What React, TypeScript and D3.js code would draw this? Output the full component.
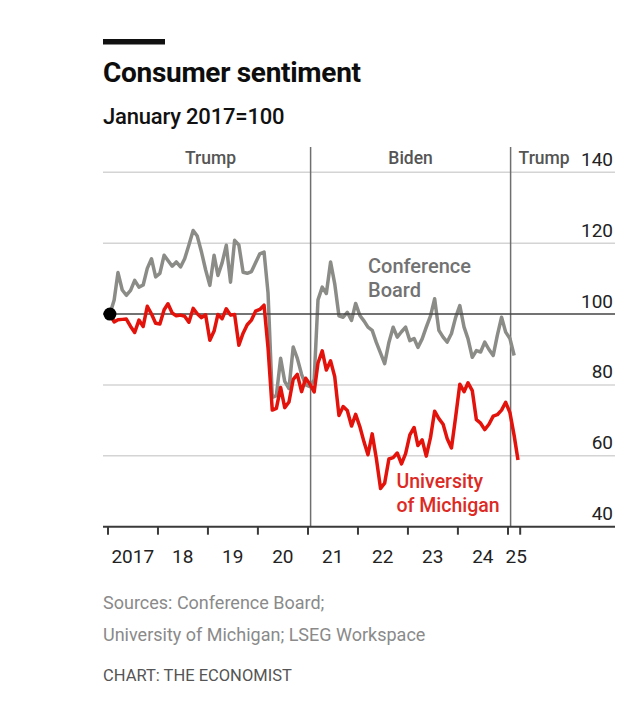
import React from "react";
import * as d3 from "d3";

// ---- Data (index, January 2017 = 100), monthly, mid-month ----
const startYear = 2017;
const conferenceBoard = [
  // 2017
  100, 104, 111.7, 106.8, 105.3, 106.7, 109.5, 107.6, 108.2, 112.9, 115.6, 110.5,
  // 2018
  111.5, 116.6, 115.1, 113.5, 114.7, 113.3, 115.6, 119.5, 123.6, 122.0, 117.5, 112.5,
  // 2019
  108.1, 116.6, 110.9, 114.5, 119.4, 109.0, 120.8, 119.5, 111.8, 111.5, 112.0, 114.5,
  // 2020
  117.0, 117.5, 106.0, 76.5, 77.0, 87.5, 81.0, 79.0, 90.7, 87.5, 83.0, 80.0,
  // 2021
  79.5, 81.5, 104.0, 107.6, 105.8, 114.7, 108.6, 99.5, 99.1, 100.5, 98.2, 103.0,
  // 2022
  99.6, 98.0, 96.3, 95.4, 92.0, 89.0, 86.0, 92.0, 96.3, 93.5, 95.0, 96.3,
  // 2023
  92.5, 93.1, 90.6, 93.0, 96.3, 99.5, 104.3, 95.4, 93.5, 92.1, 94.5, 99.0,
  // 2024
  102.4, 96.3, 93.0, 87.8, 89.7, 89.3, 92.1, 90.0, 88.3, 94.0, 99.1, 94.9,
  // 2025
  93.1, 88.3,
];
const michigan = [
  // 2017
  100.0, 97.8, 98.4, 98.5, 98.6, 96.5, 94.8, 98.3, 96.5, 102.2, 100.0, 97.4,
  // 2018
  97.2, 101.2, 102.9, 100.3, 99.5, 99.7, 99.4, 97.7, 101.6, 100.1, 99.0, 99.8,
  // 2019
  92.6, 95.2, 99.9, 98.7, 101.5, 99.7, 99.9, 91.2, 94.6, 97.0, 98.3, 100.8,
  // 2020
  101.3, 102.5, 90.5, 72.9, 73.4, 79.3, 73.6, 75.2, 81.6, 83.0, 78.1, 81.9,
  // 2021
  80.2, 78.0, 86.2, 89.6, 84.2, 86.8, 82.4, 71.4, 73.9, 72.8, 68.4, 71.7,
  // 2022
  68.2, 63.8, 60.3, 66.2, 59.3, 50.8, 52.3, 59.1, 59.5, 60.8, 57.7, 60.6,
  // 2023
  65.9, 68.0, 62.9, 64.5, 59.9, 65.2, 72.6, 70.5, 68.9, 64.8, 62.2, 70.8,
  // 2024
  80.2, 78.1, 80.6, 78.4, 70.2, 69.2, 67.4, 68.9, 71.2, 71.6, 72.9, 75.1,
  // 2025
  72.2, 65.7, 58.8,
];

const yTicks = [40, 60, 80, 100, 120, 140];
const tickYears = [2017, 2018, 2019, 2020, 2021, 2022, 2023, 2024, 2025];
const xLabels = ["2017", "18", "19", "20", "21", "22", "23", "24", "25"];
const terms = [
  { name: "Trump", start: new Date(2017, 0, 20), end: new Date(2021, 0, 20) },
  { name: "Biden", start: new Date(2021, 0, 20), end: new Date(2025, 0, 20) },
  { name: "Trump", start: new Date(2025, 0, 20), end: null as Date | null },
];

const FONT = "Roboto, 'Noto Sans', Arial, sans-serif";
const RED = "#e3120b";
const GREY = "#8b8b87";

export default function App() {
  const W = 640;
  const H = 704;
  const left = 103;
  const right = 615;

  const x = d3
    .scaleTime()
    .domain([new Date(2017, 0, 1), new Date(2025, 0, 1)])
    .range([108, 508]);
  const y = d3.scaleLinear().domain([40, 140]).range([526.7, 172.3]);

  const toPts = (arr: number[]) =>
    arr.map((v, i) => ({ d: new Date(startYear, i, 15), v }));
  const line = d3
    .line<{ d: Date; v: number }>()
    .x((p) => x(p.d))
    .y((p) => y(p.v))
    .curve(d3.curveLinear);

  const cbPts = toPts(conferenceBoard);
  const umPts = toPts(michigan);
  const axisEnd = new Date(2025, 2, 31);
  const lineTop = 147;
  const yBase = y(40);

  const labelX = (i: number) =>
    i < tickYears.length - 1
      ? x(new Date(tickYears[i], 6, 1))
      : x(new Date(2025, 2, 2));

  return (
    <svg
      width={W}
      height={H}
      style={{ position: "absolute", left: 0, top: 0, background: "#fff" }}
      fontFamily={FONT}
    >
      <rect x={0} y={0} width={W} height={H} fill="#fff" />
      {/* header */}
      <rect x={103} y={39} width={62} height={5.5} fill="#111" />
      <text x={103} y={81.5} fontSize={28} fontWeight={700} fill="#0d0d0d" letterSpacing={-0.3}>
        Consumer sentiment
      </text>
      <text x={103} y={123.5} fontSize={22} fontWeight={500} fill="#111" letterSpacing={-0.2}>
        January 2017=100
      </text>

      {/* gridlines */}
      {yTicks.map((t) =>
        t === 40 || t === 100 ? null : (
          <line key={t} x1={left} x2={right} y1={y(t)} y2={y(t)} stroke="#d4d4d4" strokeWidth={1.6} />
        )
      )}
      {/* y labels */}
      {yTicks.map((t) => (
        <text key={"l" + t} x={613} y={y(t) - 6.5} fontSize={19} fill="#222" textAnchor="end">
          {t}
        </text>
      ))}

      {/* presidential term dividers */}
      {terms.slice(1).map((tm, i) => (
        <line
          key={"v" + i}
          x1={x(tm.start)}
          x2={x(tm.start)}
          y1={lineTop}
          y2={yBase}
          stroke="#6f6f6f"
          strokeWidth={1.5}
        />
      ))}
      {terms.map((tm, i) => {
        const x0 = x(tm.start);
        const xe = tm.end ? x(tm.end) : null;
        const cx = xe !== null ? (Math.max(x0, 108) + xe) / 2 : x0 + 8;
        return (
          <text
            key={"t" + i}
            x={cx}
            y={163.5}
            fontSize={17.5}
            fontWeight={500}
            fill="#555"
            textAnchor={xe !== null ? "middle" : "start"}
          >
            {tm.name}
          </text>
        );
      })}

      {/* series */}
      <path d={line(cbPts) || ""} fill="none" stroke={GREY} strokeWidth={3.5} strokeLinejoin="round" />
      <line x1={left} x2={right} y1={y(100)} y2={y(100)} stroke="#444" strokeWidth={1.6} />
      <path d={line(umPts) || ""} fill="none" stroke={RED} strokeWidth={3.5} strokeLinejoin="round" />
      <circle cx={x(new Date(2017, 0, 15))} cy={y(100)} r={6.5} fill="#000" />

      {/* series labels */}
      <text fontSize={20} fontWeight={500} fill="#727272">
        <tspan x={368} y={273}>Conference</tspan>
        <tspan x={368} y={296.5}>Board</tspan>
      </text>
      <text fontSize={19.5} fontWeight={500} fill="#dc2a25">
        <tspan x={396.5} y={488}>University</tspan>
        <tspan x={396.5} y={511.5}>of Michigan</tspan>
      </text>

      {/* x axis */}
      <line x1={left} x2={right} y1={yBase} y2={yBase} stroke="#3a3a3a" strokeWidth={2} />
      {tickYears.map((yr) => (
        <line
          key={"tk" + yr}
          x1={x(new Date(yr, 0, 1))}
          x2={x(new Date(yr, 0, 1))}
          y1={yBase}
          y2={yBase + 8}
          stroke="#3a3a3a"
          strokeWidth={2}
        />
      ))}
      <line x1={x(axisEnd)} x2={x(axisEnd)} y1={yBase} y2={yBase + 8} stroke="#3a3a3a" strokeWidth={2} />
      {xLabels.map((lab, i) => (
        <text key={"xl" + i} x={labelX(i)} y={563} fontSize={19} fill="#222" textAnchor="middle">
          {lab}
        </text>
      ))}

      {/* footer */}
      <text fontSize={18} fill="#8a8a8a">
        <tspan x={103} y={609}>Sources: Conference Board;</tspan>
        <tspan x={103} y={641}>University of Michigan; LSEG Workspace</tspan>
      </text>
      <text x={103} y={681} fontSize={16.5} fill="#555">
        CHART: THE ECONOMIST
      </text>
    </svg>
  );
}
